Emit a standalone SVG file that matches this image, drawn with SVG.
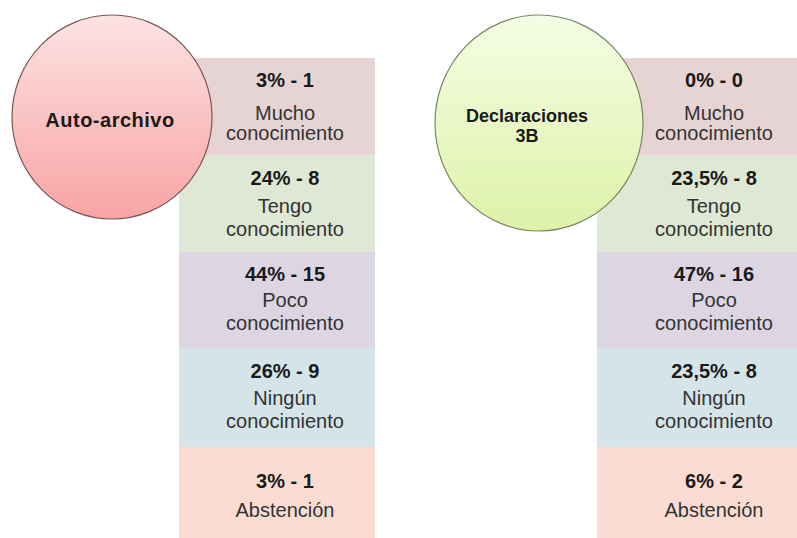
<svg xmlns="http://www.w3.org/2000/svg" width="797" height="538" viewBox="0 0 797 538">
<defs>
<linearGradient id="gPink" x1="0" y1="0" x2="0" y2="1">
<stop offset="0" stop-color="#fde2e2"/>
<stop offset="1" stop-color="#f8a4a4"/>
</linearGradient>
<linearGradient id="gGreen" x1="0" y1="0" x2="0" y2="1">
<stop offset="0" stop-color="#f4fde4"/>
<stop offset="1" stop-color="#def2a8"/>
</linearGradient>
<style>
.b1{fill:#e6d4d4}.b2{fill:#dee8d5}.b3{fill:#dcd6e3}.b4{fill:#d4e4e8}.b5{fill:#fadcd3}
.num{font-family:"Liberation Sans",Arial,sans-serif;font-weight:bold;font-size:20px;fill:#1a1a1a;text-anchor:middle}
.lbl{font-family:"Liberation Sans",Arial,sans-serif;font-size:20px;fill:#333333;text-anchor:middle}
.ttl{font-family:"Liberation Sans",Arial,sans-serif;font-weight:bold;font-size:20px;fill:#1a1a1a;text-anchor:middle}
.ttl2{font-family:"Liberation Sans",Arial,sans-serif;font-weight:bold;font-size:18px;fill:#1a1a1a;text-anchor:middle}
</style>
</defs>
<rect width="797" height="538" fill="#ffffff"/>
<g id="connectors"/>
<g id="left-boxes">
<g id="l1"><rect class="b1" x="193" y="58" width="182" height="97"/><text class="num" x="285" y="87">3% - 1</text><text class="lbl" x="285" y="120">Mucho</text><text class="lbl" x="285" y="140">conocimiento</text></g>
<g id="l2"><rect class="b2" x="179" y="155" width="196" height="97"/><text class="num" x="285" y="185">24% - 8</text><text class="lbl" x="285" y="213">Tengo</text><text class="lbl" x="285" y="236">conocimiento</text></g>
<g id="l3"><rect class="b3" x="179" y="252" width="196" height="96"/><text class="num" x="285" y="281">44% - 15</text><text class="lbl" x="285" y="307">Poco</text><text class="lbl" x="285" y="330">conocimiento</text></g>
<g id="l4"><rect class="b4" x="179" y="348" width="196" height="99"/><text class="num" x="285" y="378">26% - 9</text><text class="lbl" x="285" y="405">Ningún</text><text class="lbl" x="285" y="428">conocimiento</text></g>
<g id="l5"><rect class="b5" x="179" y="447" width="196" height="91"/><text class="num" x="285" y="488">3% - 1</text><text class="lbl" x="285" y="517">Abstención</text></g>
</g>
<g id="auto-archivo"><ellipse cx="112" cy="117" rx="100" ry="102" fill="url(#gPink)" stroke="#7a5656" stroke-width="1.2"/><text class="ttl" x="110" y="127" letter-spacing="0.5">Auto-archivo</text></g>
<g id="right-boxes">
<g id="r1"><rect class="b1" x="617" y="58" width="180" height="97"/><text class="num" x="714" y="87">0% - 0</text><text class="lbl" x="714" y="120">Mucho</text><text class="lbl" x="714" y="140">conocimiento</text></g>
<g id="r2"><rect class="b2" x="597" y="155" width="200" height="97"/><text class="num" x="714" y="185">23,5% - 8</text><text class="lbl" x="714" y="213">Tengo</text><text class="lbl" x="714" y="236">conocimiento</text></g>
<g id="r3"><rect class="b3" x="597" y="252" width="200" height="96"/><text class="num" x="714" y="281">47% - 16</text><text class="lbl" x="714" y="307">Poco</text><text class="lbl" x="714" y="330">conocimiento</text></g>
<g id="r4"><rect class="b4" x="597" y="348" width="200" height="99"/><text class="num" x="714" y="378">23,5% - 8</text><text class="lbl" x="714" y="405">Ningún</text><text class="lbl" x="714" y="428">conocimiento</text></g>
<g id="r5"><rect class="b5" x="597" y="447" width="200" height="91"/><text class="num" x="714" y="488">6% - 2</text><text class="lbl" x="714" y="517">Abstención</text></g>
</g>
<g id="declaraciones"><ellipse cx="539" cy="123" rx="104" ry="108" fill="url(#gGreen)" stroke="#7d8466" stroke-width="1.2"/><text class="ttl2" x="527" y="122">Declaraciones</text><text class="ttl2" x="527" y="142">3B</text></g>
</svg>
